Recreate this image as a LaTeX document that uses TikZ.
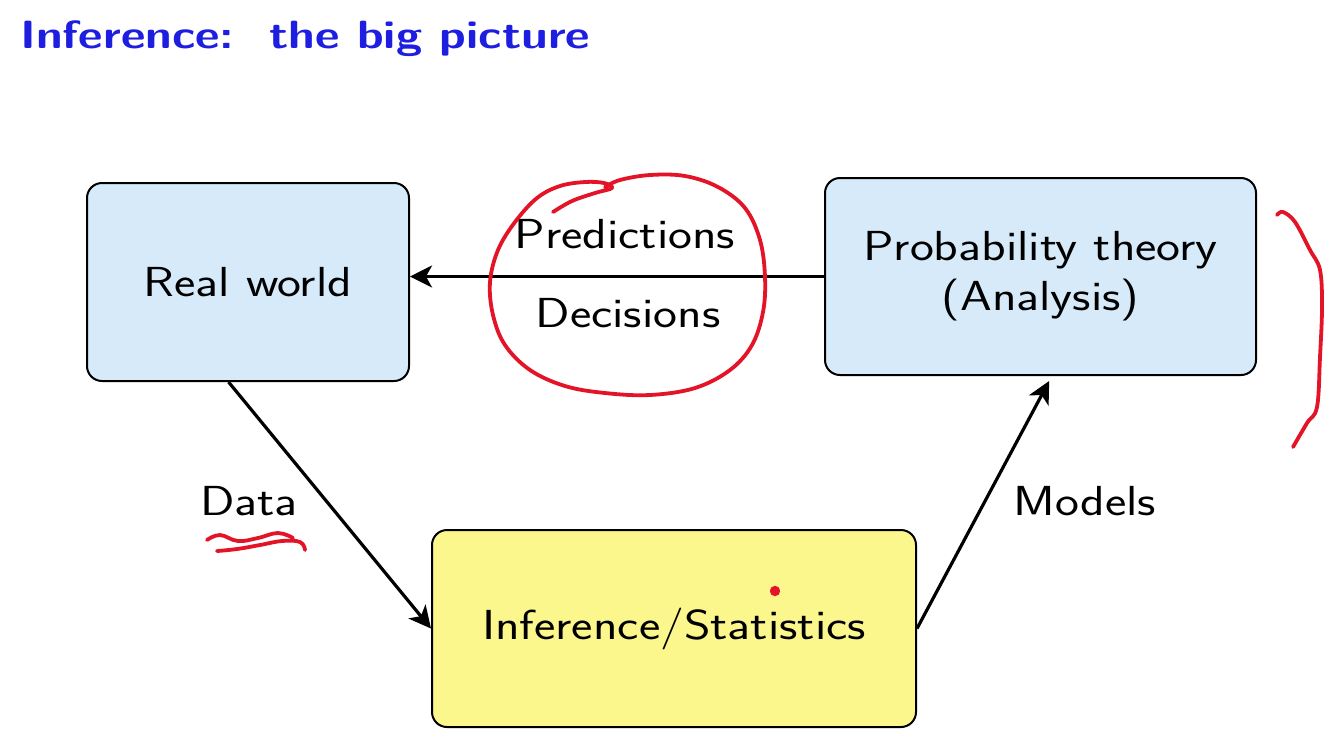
\documentclass[tikz,border=0pt]{standalone}
\usepackage{fontspec}
\setsansfont[FakeStretch=1.21]{Latin Modern Sans}
\usetikzlibrary{arrows.meta,calc}
\definecolor{boxblue}{RGB}{214,234,250}
\definecolor{boxyellow}{RGB}{252,247,140}
\definecolor{titleblue}{RGB}{30,30,225}
\definecolor{penred}{RGB}{228,20,40}
\newcommand{\lbl}{\sffamily\fontsize{21}{25}\selectfont}
\tikzset{
  box/.style={draw=black, line width=1pt, rounded corners=7.5pt, align=center, font=\lbl, inner sep=0pt},
  conn/.style={line width=1.6pt, -{Stealth[length=11pt,width=11pt,inset=3pt]}},
  lab/.style={font=\lbl, inner sep=0pt, anchor=base},
  pen/.style={penred, line width=1.9pt, line cap=round, line join=round},
}
\begin{document}
\begin{tikzpicture}[x=0.5pt,y=-0.5pt]
\useasboundingbox[fill=white] (0,0) rectangle (1338,752);
\node[anchor=base west, inner sep=0pt, text=titleblue, font=\sffamily\bfseries\fontsize{19.7}{24}\selectfont] (title) at (20,48) {Inference:~~the big picture};

\node[box, fill=boxblue, minimum width=161pt, minimum height=99pt] (real) at (248,282) {Real world};
\node[box, fill=boxblue, minimum width=215.5pt, minimum height=98.5pt] (prob) at (1040.5,276.5) {Probability theory\\(Analysis)};
\node[box, fill=boxyellow, minimum width=242pt, minimum height=98.5pt] (infer) at (674,628.5) {Inference/Statistics};

\draw[conn] (prob.west) -- (prob.west -| real.east);
\draw[conn] ($(real.south west)!0.44!(real.south east)$) -- (infer.west);
\coordinate (mtip) at ($(prob.south west)!0.52!(prob.south east)+(0,5)$);
\draw[conn] (infer.east) -- (mtip);

\node[lab] (pred) at (625,248) {Predictions};
\node[lab] (dec) at (628,327) {Decisions};
\node[lab] (data) at (249,515) {Data};
\node[lab] (models) at (1085,515) {Models};

% red annotations
\draw[pen] plot[smooth, tension=0.6] coordinates {(553,212) (572,201) (595,193) (612,188) (604,183) (585,182) (560,186) (537,198) (515,222) (498,250) (490,282) (493,315) (505,345) (530,370) (565,386) (605,393) (650,395) (695,388) (730,370) (752,345) (763,312) (765,277) (760,240) (745,208) (718,187) (685,176) (650,175) (620,180) (605,187)};
\draw[pen] plot[smooth, tension=0.6] coordinates {(1277,215) (1283,212) (1295,222) (1310,250) (1320,270) (1322,307) (1320,357) (1317,407) (1307,423) (1293,447)};
\draw[pen] plot[smooth, tension=0.7] coordinates {(207,540) (220,535) (238,541) (258,538) (278,533) (293,538)};
\draw[pen] plot[smooth, tension=0.7] coordinates {(217,551) (237,549) (260,545) (282,541) (300,542) (305,550)};
\fill[penred] (775,591) circle (2.6pt);
\end{tikzpicture}
\end{document}
